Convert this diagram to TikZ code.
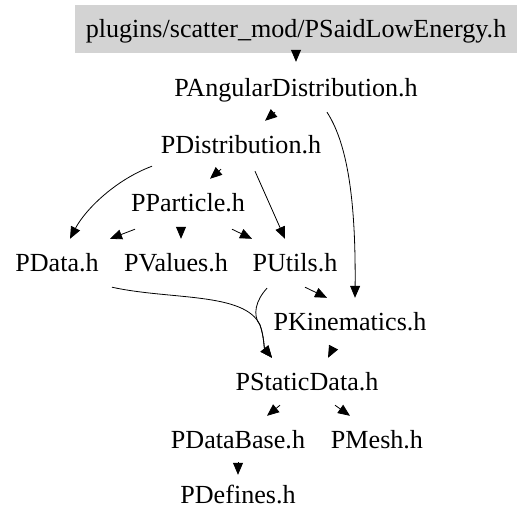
\documentclass[tikz,border=0pt]{standalone}
\usepackage{fontspec}
\setmainfont{Liberation Serif}
\usetikzlibrary{arrows.meta}
\definecolor{boxgray}{HTML}{D3D3D3}
\begin{document}
\begin{tikzpicture}[x=1pt,y=-1pt,
  file/.style={inner sep=0pt,minimum height=48pt,text height=20pt,text depth=3pt,
    font=\fontsize{26.1}{30}\selectfont},
  arr/.style={draw=black,line width=0.8pt,-{Triangle[length=12pt,width=10pt]}}]
\useasboundingbox (0,0) rectangle (529,528);
\node[file,fill=boxgray,minimum width=442pt] (top) at (296,29) {plugins/scatter\_mod/PSaidLowEnergy.h};
\node[file] (ang) at (296,88) {PAngularDistribution.h};
\node[file] (dist) at (241,145) {PDistribution.h};
\node[file] (part) at (188,203) {PParticle.h};
\node[file] (data) at (57,263) {PData.h};
\node[file] (vals) at (176,263) {PValues.h};
\node[file] (utils) at (295,263) {PUtils.h};
\node[file] (kin) at (350,322) {PKinematics.h};
\node[file] (stat) at (307,382) {PStaticData.h};
\node[file] (dbase) at (238,440) {PDataBase.h};
\node[file] (mesh) at (377,440) {PMesh.h};
\node[file] (defs) at (238,495) {PDefines.h};

\draw[arr] ([yshift=3pt]top.south) -- ([yshift=2pt]ang.north);
\draw[arr] ([xshift=-21pt]ang.south) -- ([xshift=24pt]dist.north);
\draw[arr] ([xshift=31pt]ang.south) .. controls (345,140) and (356,190) .. ([xshift=5pt]kin.north);
\draw[arr] ([xshift=-89pt,yshift=3pt]dist.south) .. controls (115,180) and (85,210) .. ([xshift=13pt]data.north);
\draw[arr] ([xshift=-20pt]dist.south) -- ([xshift=22pt]part.north);
\draw[arr] ([xshift=14pt,yshift=-2pt]dist.south) -- ([xshift=-10pt]utils.north);
\draw[arr] ([xshift=-53pt,yshift=-2pt]part.south) -- ([xshift=53pt]data.north);
\draw[arr] ([xshift=-7pt]part.south) -- ([xshift=5pt]vals.north);
\draw[arr] ([xshift=44pt,yshift=-2pt]part.south) -- ([xshift=-43pt]utils.north);
\draw[arr] ([xshift=55pt]data.south) .. controls (170,300) and (245,292) .. (260,325) .. controls (264,336) and (264,348) .. ([xshift=-35pt]stat.north);
\draw[arr] ([xshift=-28pt,yshift=-1pt]utils.south) .. controls (256,300) and (252,315) .. (260,325) .. controls (264,336) and (264,348) .. ([xshift=-35pt]stat.north);
\draw[arr] ([xshift=10pt]utils.south) -- ([xshift=-23pt]kin.north);
\draw[arr] ([xshift=-17pt,yshift=-2pt]kin.south) -- ([xshift=21pt]stat.north);
\draw[arr] ([xshift=-27pt,yshift=1pt]stat.south) -- ([xshift=29pt]dbase.north);
\draw[arr] ([xshift=28pt,yshift=1pt]stat.south) -- ([xshift=-27pt]mesh.north);
\draw[arr] ([yshift=2pt]dbase.south) -- ([yshift=-4pt]defs.north);
\end{tikzpicture}
\end{document}
